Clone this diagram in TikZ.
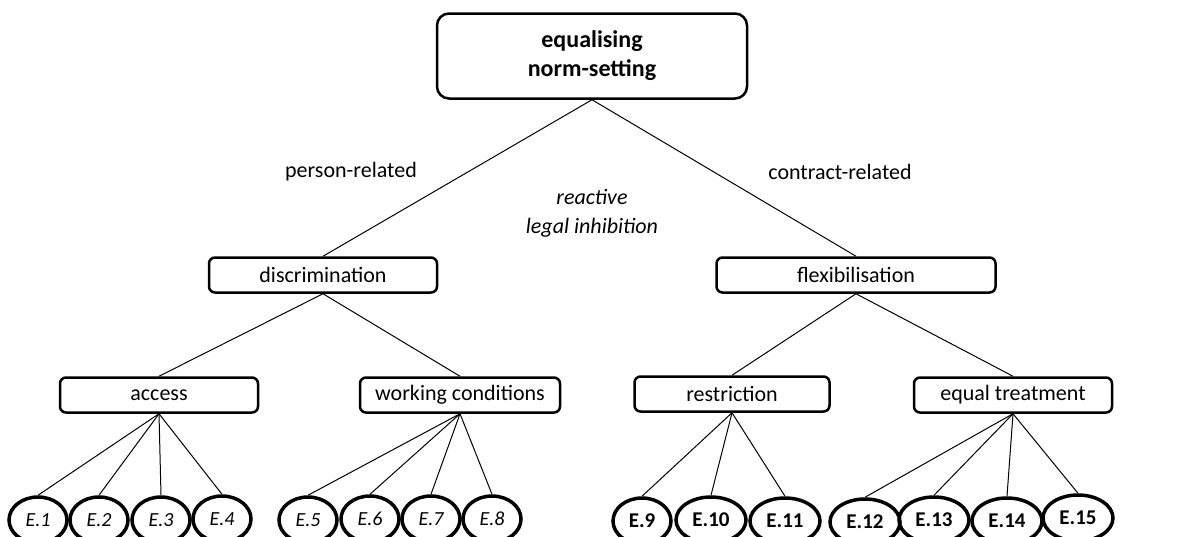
\documentclass[tikz,border=0pt]{standalone}
\usepackage{fontspec}
\setmainfont{Carlito}
\usetikzlibrary{shapes.geometric, positioning}

\tikzset{
    topbox/.style={draw, line width=2.5pt, rounded corners=12pt, minimum width=310pt, minimum height=85pt, align=center, font=\fontsize{24}{29}\selectfont\bfseries},
    catbox/.style={draw, line width=2.5pt, rounded corners=6pt, minimum height=35pt, inner sep=0pt, font=\fontsize{22}{24}\selectfont},
    leaf/.style={draw, ellipse, line width=3.5pt, minimum height=46pt, inner sep=0pt},
    leafi/.style={leaf, minimum width=58pt, font=\fontsize{20}{22}\selectfont\itshape},
    leafb/.style={leaf, minimum width=70pt, font=\fontsize{21}{22}\selectfont\bfseries},
    branch/.style={line width=1pt},
    note/.style={font=\fontsize{22}{24}\selectfont}
}

\begin{document}
\begin{tikzpicture}[x=1pt, y=-1pt]
    \useasboundingbox (0,0) rectangle (1190,536);

    % root
    \node[topbox] (root) at (592,56) {equalising\\norm-setting};

    % first level
    \node[catbox, minimum width=228pt] (discr) at (323,275) {discrimination};
    \node[catbox, minimum width=279pt] (flex) at (856,275) {flexibilisation};

    % second level
    \node[catbox, minimum width=198pt] (access) at (159,395) {access};
    \node[catbox, minimum width=200pt] (working) at (460,395) {working conditions};
    \node[catbox, minimum width=195pt] (restr) at (732,394) {restriction};
    \node[catbox, minimum width=198pt] (equal) at (1013,395) {equal treatment};

    % labels
    \node[note] (person) at (351,172) {person-related};
    \node[note] (contract) at (840,172) {contract-related};
    \node[note, font=\fontsize{22}{24}\selectfont\itshape] (reactive) at (592,197) {reactive};
    \node[note, font=\fontsize{22}{24}\selectfont\itshape] (legal) at (592,228) {legal inhibition};

    % leaves
    \node[leafi] (e1) at (38,520) {E.1};
    \node[leafi] (e2) at (99,520) {E.2};
    \node[leafi] (e3) at (161,520) {E.3};
    \node[leafi] (e4) at (222,519) {E.4};
    \node[leafi] (e5) at (308,520) {E.5};
    \node[leafi] (e6) at (370,519) {E.6};
    \node[leafi] (e7) at (431,519) {E.7};
    \node[leafi] (e8) at (492,519) {E.8};
    \node[leafi, font=\fontsize{21}{22}\selectfont\bfseries] (e9) at (642,521) {E.9};
    \node[leafb] (e10) at (711,520) {E.10};
    \node[leafb] (e11) at (785,521) {E.11};
    \node[leafb] (e12) at (865,522) {E.12};
    \node[leafb] (e13) at (934,520) {E.13};
    \node[leafb] (e14) at (1007,521) {E.14};
    \node[leafb] (e15) at (1078,518) {E.15};

    % connectors
    \draw[branch] (root.south) -- (discr.north);
    \draw[branch] (root.south) -- (flex.north);
    \draw[branch] (discr.south) -- (access.north);
    \draw[branch] (discr.south) -- (working.north);
    \draw[branch] (flex.south) -- (restr.north);
    \draw[branch] (flex.south) -- (equal.north);
    \foreach \e in {e1,e2,e3,e4}
        \draw[branch] (access.south) -- (\e.north);
    \foreach \e in {e5,e6,e7,e8}
        \draw[branch] (working.south) -- (\e.north);
    \foreach \e in {e9,e10,e11}
        \draw[branch] (restr.south) -- (\e.north);
    \foreach \e in {e12,e13,e14,e15}
        \draw[branch] (equal.south) -- (\e.north);
\end{tikzpicture}
\end{document}
